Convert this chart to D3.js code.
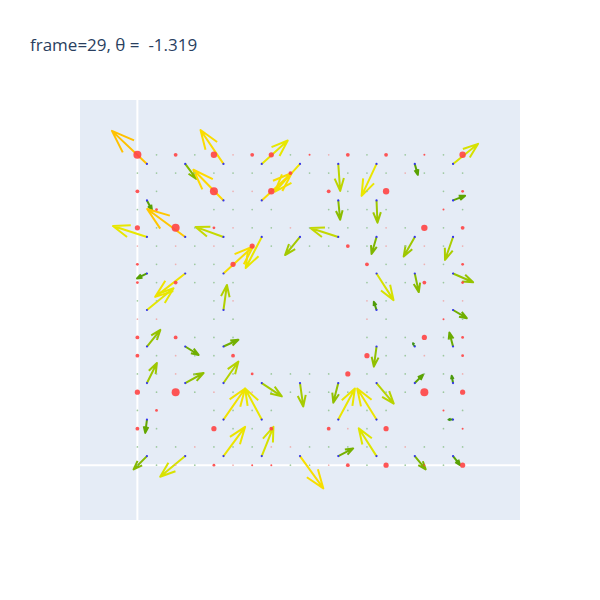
<!DOCTYPE html>
<html><head><meta charset="utf-8">
<script src="https://cdn.jsdelivr.net/npm/d3@7"></script>
<style>body{margin:0;background:#fff}svg{display:block}</style>
</head><body>
<svg id="c" width="600" height="600"></svg>
<script>
const titleText = "frame=29, θ =  -1.319";
const xDomain = [-3, 20];
const yDomain = [-3, 20];

// coarse arrow grid (base points)
const arrowXs = [0.5, 2.5, 4.5, 6.5, 8.5, 10.5, 12.5, 14.5, 16.5];
const arrowYs = [16.5, 14.5, 12.5, 10.5, 8.5, 6.5, 4.5, 2.5, 0.5];
const arrowU = [
  [-1.83, 0.58, -1.20, 1.36, -1.31, 0.10, -0.78, 0.16, 1.31],
  [0.26, null, -1.57, 1.57, null, 0.10, 0.05, null, 0.63],
  [-1.78, -1.99, -1.46, -0.84, -0.78, -1.46, -0.26, -0.58, -0.42],
  [-0.52, -1.57, 1.55, null, null, null, 0.89, 0.21, 1.05],
  [1.39, null, 0.18, null, null, null, -0.14, null, 0.72],
  [0.70, 0.70, 0.78, null, null, null, -0.14, -0.09, -0.19],
  [0.52, 0.96, 0.78, 1.05, 0.17, -0.26, 0.90, 0.44, -0.07],
  [-0.09, null, 1.13, -0.87, null, 0.87, -1.01, null, -0.24],
  [-0.70, -1.31, 1.13, 0.61, 1.22, 0.78, -0.93, 0.57, 0.37]
];
const arrowV = [
  [1.81, -0.82, 1.86, 1.28, -1.52, -1.48, -1.75, -0.60, 1.10],
  [-0.52, null, 1.68, 1.50, null, -1.06, -1.22, null, 0.26],
  [0.60, 1.53, 0.55, -1.70, -0.99, 0.49, -0.93, -1.07, -1.26],
  [-0.27, -1.28, 1.48, null, null, null, -1.46, -1.02, -0.48],
  [1.19, null, 1.37, null, null, null, 0.45, null, -0.45],
  [0.91, -0.46, 0.37, null, null, null, -1.10, 0.18, 0.77],
  [1.10, 0.55, 1.18, -0.73, -1.28, -1.07, -1.13, 0.46, 0.40],
  [-0.73, null, 1.70, 1.70, null, 1.70, 1.70, null, 0.00],
  [-0.73, -1.13, 1.60, 1.60, -1.77, 0.42, 1.52, -0.73, -0.49]
];

// fine lattice 18x18, rows from y=17 down to y=0; columns x=0..17
// '.' faint green, 'p' faint pink, a..f red of growing size, ' ' empty
const dotRows = [
  "f.c.epcd.apc.c.a.e",
  "........c.....p...",
  "c.  fppe  c..e  .b",
  ".b  ....  ....  a.",
  "d.f.bp..p....p.e.c",
  "p.p.p.d....c.p.p.p",
  "b.p..d      c..p.b",
  "b.c...      ...c.b",
  "..  .p      p.  pp",
  "pp  ..      p.  a.",
  "c.c...      ...d.b",
  "c.p..c      d..p.b",
  "..p...b....d.....p",
  "d.f.p.p........f.d",
  ".b  ....  ....  a.",
  "c.  d..c  cp.d  .a",
  "...p...pp.....p...",
  "..p.bpaa..pc.d.a.d"
];
const dotRadius = {a: 1.0, b: 1.4, c: 1.9, d: 2.6, e: 3.2, f: 4.0};

const svg = d3.select("#c");
const L = 80, T = 100, W = 440, H = 420;
const x = d3.scaleLinear().domain(xDomain).range([L, L + W]);
const y = d3.scaleLinear().domain(yDomain).range([T + H, T]);

svg.append("rect").attr("x", L).attr("y", T).attr("width", W).attr("height", H).attr("fill", "#e5ecf6");

// zero lines
svg.append("line").attr("x1", x(0)).attr("x2", x(0)).attr("y1", T).attr("y2", T + H)
  .attr("stroke", "#fff").attr("stroke-width", 2);
svg.append("line").attr("x1", L).attr("x2", L + W).attr("y1", y(0)).attr("y2", y(0))
  .attr("stroke", "#fff").attr("stroke-width", 2);

svg.append("clipPath").attr("id", "pc").append("rect")
  .attr("x", L).attr("y", T).attr("width", W).attr("height", H);
const g = svg.append("g").attr("clip-path", "url(#pc)");

const color = d3.scaleLinear()
  .domain([0, 0.7, 1.3, 1.85, 2.3, 2.6])
  .range(["#2f8a1e", "#5fa500", "#a8cc00", "#e6e800", "#ffd900", "#ffbf00"])
  .clamp(true);

const arrows = [];
arrowYs.forEach((yy, j) => arrowXs.forEach((xx, i) => {
  const u = arrowU[j][i], v = arrowV[j][i];
  if (u === null || v === null) return;
  arrows.push({x: xx, y: yy, u, v});
}));

const ang = Math.PI / 9, headScale = 0.5;
arrows.forEach(a => {
  const x0 = x(a.x), y0 = y(a.y), x1 = x(a.x + a.u), y1 = y(a.y + a.v);
  const len = Math.hypot(x1 - x0, y1 - y0);
  const back = Math.atan2(y0 - y1, x0 - x1);
  const bl = len * headScale;
  const p = d3.path();
  p.moveTo(x0, y0); p.lineTo(x1, y1);
  p.moveTo(x1 + bl * Math.cos(back + ang), y1 + bl * Math.sin(back + ang));
  p.lineTo(x1, y1);
  p.lineTo(x1 + bl * Math.cos(back - ang), y1 + bl * Math.sin(back - ang));
  g.append("path").attr("d", p.toString()).attr("fill", "none")
    .attr("stroke", color(Math.hypot(a.u, a.v))).attr("stroke-width", 2)
    .attr("stroke-linejoin", "round");
});

// lattice dots
const dots = [];
dotRows.forEach((row, r) => {
  const yy = 17 - r;
  row.split("").forEach((ch, k) => { if (ch !== " ") dots.push({x: k, y: yy, t: ch}); });
});
g.selectAll("circle.dot").data(dots).join("circle").attr("class", "dot")
  .attr("cx", d => x(d.x)).attr("cy", d => y(d.y))
  .attr("r", d => d.t === "." || d.t === "p" ? 0.85 : dotRadius[d.t])
  .attr("fill", d => d.t === "." ? "#95c495" : d.t === "p" ? "#eeaaaa" : "#ff4444")
  .attr("opacity", 0.9);

// arrow base markers
g.selectAll("circle.base").data(arrows).join("circle").attr("class", "base")
  .attr("cx", d => x(d.x)).attr("cy", d => y(d.y)).attr("r", 1.1).attr("fill", "#3333ee");

svg.append("text").attr("x", 30).attr("y", 51)
  .attr("font-family", "'Open Sans', sans-serif").attr("font-size", 17)
  .attr("fill", "#2a3f5f").style("white-space", "pre").text(titleText);
</script>
</body></html>
